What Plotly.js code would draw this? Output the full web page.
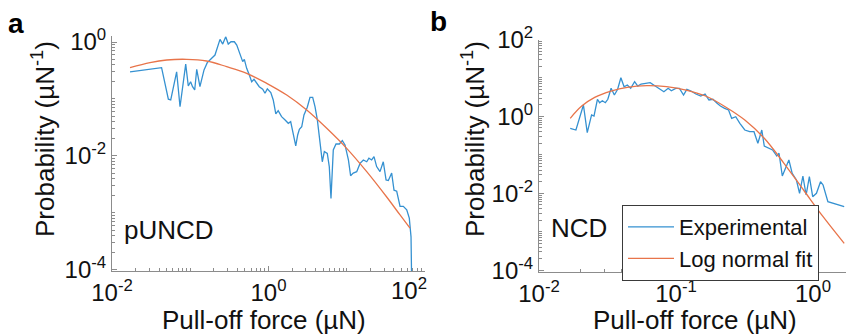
<!DOCTYPE html>
<html>
<head>
<meta charset="utf-8">
<script src="https://cdn.plot.ly/plotly-3.0.1.min.js"></script>
<style>html,body{margin:0;padding:0;background:#fff}</style>
</head>
<body>
<div id="chart" style="width:846px;height:336px"></div>
<script>
// ---- Panel a (pUNCD) ----
const aExpX = [0.017, 0.043, 0.0525, 0.0563, 0.067, 0.074, 0.0875, 0.0944, 0.101, 0.107, 0.114, 0.121, 0.133, 0.150, 0.165, 0.207, 0.240, 0.260, 0.284, 0.306, 0.332, 0.366, 0.393, 0.433, 0.468, 0.491, 0.526, 0.569, 0.610, 0.653, 0.706, 0.762, 0.843, 0.902, 0.966, 1.07, 1.15, 1.24, 1.33, 1.47, 1.63, 1.79, 1.92, 2.08, 2.23, 2.36, 2.48, 2.66, 2.84, 3.13, 3.39, 3.67, 3.93, 4.21, 4.55, 4.87, 5.17, 5.64, 5.98, 6.29, 6.73, 7.29, 8.04, 8.78, 9.5, 10.5, 11.2, 12.1, 13.4, 14.8, 16.3, 18.0, 19.2, 20.8, 22.3, 24.1, 26.6, 29.3, 31.8, 34.0, 37.5, 40.2, 43.5, 48.0, 52.8, 58.4, 63.0, 66.3, 68.8];
const aExpY = [0.30, 0.354, 0.099, 0.096, 0.30, 0.073, 0.41, 0.169, 0.201, 0.164, 0.144, 0.332, 0.164, 0.323, 0.434, 0.59, 1.11, 0.92, 1.24, 0.92, 1.01, 1.01, 0.885, 0.634, 0.452, 0.497, 0.345, 0.264, 0.201, 0.221, 0.188, 0.164, 0.148, 0.126, 0.150, 0.129, 0.096, 0.0546, 0.0624, 0.049, 0.0428, 0.0374, 0.040, 0.0233, 0.015, 0.0233, 0.0294, 0.0327, 0.0524, 0.0715, 0.107, 0.107, 0.0733, 0.0428, 0.0191, 0.0079, 0.0119, 0.0111, 0.0065, 0.0018, 0.0127, 0.0162, 0.0162, 0.0186, 0.0156, 0.0085, 0.0045, 0.0050, 0.0053, 0.0074, 0.0085, 0.0079, 0.0091, 0.0085, 0.0097, 0.0065, 0.0053, 0.0079, 0.0038, 0.0037, 0.0050, 0.0025, 0.0024, 0.0013, 0.0013, 0.00113, 0.00081, 0.00038, 0.00001];
const aFitX = [0.017, 0.0306, 0.050, 0.090, 0.162, 0.292, 0.526, 0.948, 1.71, 3.08, 5.55, 9.98, 18.0, 32.4, 48.0, 64.3];
const aFitY = [0.354, 0.434, 0.483, 0.497, 0.464, 0.369, 0.282, 0.188, 0.117, 0.064, 0.0306, 0.0136, 0.0053, 0.0019, 0.00092, 0.00054];

// ---- Panel b (NCD) ----
const bExpX = [0.0169, 0.0186, 0.0211, 0.0225, 0.0242, 0.0252, 0.0267, 0.0277, 0.029, 0.0305, 0.0318, 0.0336, 0.0355, 0.0375, 0.0396, 0.0418, 0.0441, 0.0467, 0.0499, 0.0526, 0.0556, 0.0597, 0.0648, 0.0705, 0.0765, 0.0816, 0.0877, 0.0925, 0.0995, 0.106, 0.1135, 0.12, 0.1286, 0.1396, 0.1517, 0.163, 0.174, 0.186, 0.1995, 0.211, 0.2265, 0.242, 0.255, 0.273, 0.2925, 0.318, 0.345, 0.371, 0.396, 0.423, 0.441, 0.472, 0.507, 0.544, 0.565, 0.597, 0.621, 0.667, 0.705, 0.757, 0.798, 0.844, 0.891, 0.941, 0.995, 1.06, 1.135, 1.185, 1.285, 1.69];
const bExpY = [0.49, 0.443, 1.98, 0.377, 1.09, 1.02, 2.79, 2.27, 2.56, 2.27, 2.79, 5.38, 3.6, 5.07, 10.1, 5.92, 6.55, 5.38, 7.98, 6.17, 6.95, 7.26, 7.52, 6.17, 5.07, 4.39, 5.38, 4.66, 5.38, 5.38, 3.6, 5.07, 4.57, 3.82, 3.39, 3.82, 2.67, 2.79, 2.19, 1.86, 1.62, 1.47, 0.89, 0.98, 0.66, 0.443, 0.40, 0.40, 0.20, 0.443, 0.17, 0.148, 0.134, 0.0933, 0.110, 0.0282, 0.0404, 0.0735, 0.0331, 0.0222, 0.0100, 0.0282, 0.00904, 0.027, 0.00817, 0.0100, 0.02, 0.0165, 0.00605, 0.00449];
const bFitX = [0.0169, 0.0205, 0.0255, 0.0336, 0.0441, 0.0614, 0.0853, 0.1186, 0.1644, 0.2286, 0.318, 0.441, 0.614, 0.853, 1.185, 1.69];
const bFitY = [0.893, 1.86, 3.14, 4.57, 5.71, 6.28, 5.92, 4.86, 3.39, 1.79, 0.806, 0.27, 0.0604, 0.0122, 0.00247, 0.0005];

// ---- Tick labels (labelled decades only) ----
const aXTickVals = [0.01, 1];
const aXTickText = ['10<sup>-2</sup>', '10<sup>0</sup>'];
const aXEndLabel = '10<sup>2</sup>';   // drawn shifted left as in the figure
const aYTickVals = [1e-4, 1e-2, 1];
const aYTickText = ['10<sup>-4</sup>', '10<sup>-2</sup>', '10<sup>0</sup>'];
const bXTickVals = [0.01, 0.1, 1];
const bXTickText = ['10<sup>-2</sup>', '10<sup>-1</sup>', '10<sup>0</sup>'];
const bYTickVals = [1e-4, 1e-2, 1, 100];
const bYTickText = ['10<sup>-4</sup>', '10<sup>-2</sup>', '10<sup>0</sup>', '10<sup>2</sup>'];

const seriesNames = ['Experimental', 'Log normal fit'];
const panelTags = ['pUNCD', 'NCD'];
const xTitle = 'Pull-off force (µN)';
const yTitle = 'Probability (µN<sup>-1</sup>)';

function minorTicks(d0, d1, labelled) {
  const out = [];
  for (let d = d0; d <= d1; d++) {
    const v = Math.pow(10, d);
    if (!labelled.some(t => Math.abs(t - v) / v < 1e-9)) out.push(v);
    if (d < d1) for (let k = 2; k <= 9; k++) out.push(k * v);
  }
  return out;
}

const FONT = 'Liberation Sans, Arial, sans-serif';
const BLUE = '#3591d1', ORANGE = '#e8744a', AX = '#8c8c8c';
const W = 846, H = 336;
const px = X => X / W, py = Y => (H - Y) / H;

function axisBase(tv, tt, minor, standoff) {
  return {
    type: 'log', tickmode: 'array', tickvals: tv, ticktext: tt,
    ticks: 'inside', ticklen: 5, tickwidth: 1, tickcolor: AX,
    ticklabelstandoff: standoff,
    showline: true, linecolor: AX, linewidth: 1, mirror: false,
    showgrid: false, zeroline: false, automargin: false,
    tickfont: {family: FONT, size: 24, color: '#111'},
    minor: {tickmode: 'array', tickvals: minor, ticks: 'inside', ticklen: 3, tickcolor: AX, showgrid: false}
  };
}

const traces = [
  {x: aExpX, y: aExpY, xaxis: 'x', yaxis: 'y', mode: 'lines', line: {color: BLUE, width: 1.3}, showlegend: false, name: seriesNames[0]},
  {x: aFitX, y: aFitY, xaxis: 'x', yaxis: 'y', mode: 'lines', line: {color: ORANGE, width: 1.3, shape: 'spline'}, showlegend: false, name: seriesNames[1]},
  {x: bExpX, y: bExpY, xaxis: 'x2', yaxis: 'y2', mode: 'lines', line: {color: BLUE, width: 1.3}, name: seriesNames[0]},
  {x: bFitX, y: bFitY, xaxis: 'x2', yaxis: 'y2', mode: 'lines', line: {color: ORANGE, width: 1.3, shape: 'spline'}, name: seriesNames[1]}
];

const ann = (text, X, Y, size, extra) => Object.assign({text: text, x: px(X), y: py(Y), xref: 'paper', yref: 'paper', showarrow: false, xanchor: 'center', yanchor: 'middle', borderpad: 0, borderwidth: 0, font: {family: FONT, size: size, color: '#111'}}, extra || {});

const layout = {
  width: W, height: H,
  margin: {l: 0, r: 0, t: 0, b: 0},
  paper_bgcolor: '#fff', plot_bgcolor: '#fff',
  font: {family: FONT, color: '#111'},
  xaxis: Object.assign(axisBase(aXTickVals, aXTickText, minorTicks(-2, 2, aXTickVals), 0), {domain: [px(112), px(425)], range: [-2, 2], anchor: 'y'}),
  yaxis: Object.assign(axisBase(aYTickVals, aYTickText, minorTicks(-4, 0, aYTickVals), 0), {domain: [py(271), py(36.3)], range: [-4.02, 0.1], anchor: 'x'}),
  xaxis2: Object.assign(axisBase(bXTickVals, bXTickText, minorTicks(-2, 0, bXTickVals), 0), {domain: [px(539), 1], range: [-2, 0.241], anchor: 'y2'}),
  yaxis2: Object.assign(axisBase(bYTickVals, bYTickText, minorTicks(-4, 2, bYTickVals), 0), {domain: [py(272), py(39.5)], range: [-4.046, 2], anchor: 'x2'}),
  showlegend: true,
  legend: {
    x: px(622), y: py(205), xanchor: 'left', yanchor: 'top',
    bordercolor: '#3a3a3a', borderwidth: 1, bgcolor: '#fff', itemwidth: 46,
    font: {family: FONT, size: 22, color: '#111'}, tracegroupgap: 0
  },
  annotations: [
    ann('<b>a</b>', 16, 24, 28, {font: {family: FONT, size: 28, color: '#000'}}),
    ann('<b>b</b>', 438, 22, 28, {font: {family: FONT, size: 28, color: '#000'}}),
    ann(yTitle, 43, 139, 26, {textangle: -90}),
    ann(yTitle, 473, 139, 26, {textangle: -90}),
    ann(xTitle, 264, 320, 26),
    ann(xTitle, 695, 320, 26),
    ann(panelTags[0], 169, 230, 26),
    ann(panelTags[1], 579, 228, 26),
    ann(aXEndLabel, 409, 289, 24)
  ]
};

Plotly.newPlot('chart', traces, layout, {displayModeBar: false, staticPlot: true});
</script>
</body>
</html>
